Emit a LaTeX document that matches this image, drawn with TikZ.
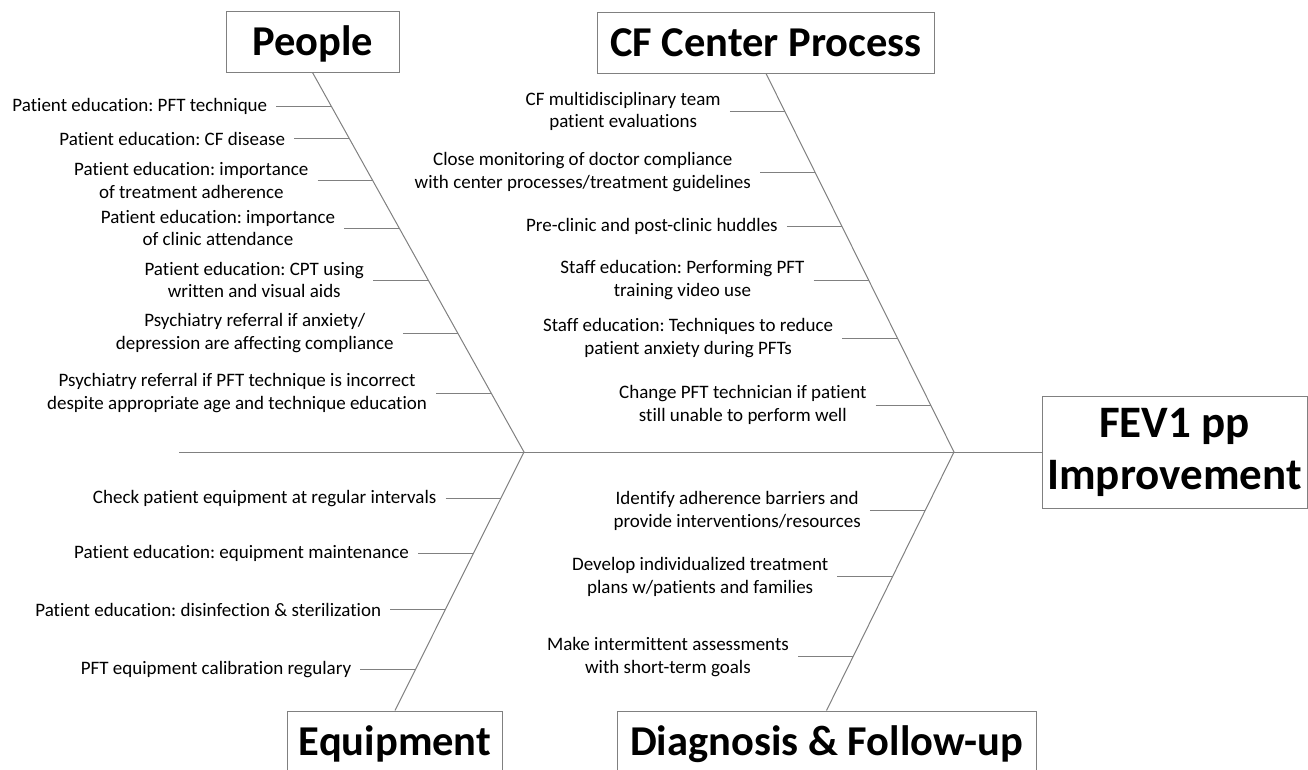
\documentclass[tikz,border=0pt]{standalone}
\usepackage{fontspec}
\setmainfont[Ligatures=NoCommon]{Carlito}
\usetikzlibrary{positioning,calc}
\frenchspacing

\definecolor{bonegray}{RGB}{128,128,128}
\newcommand{\causefont}{\fontsize{19}{22.7}\selectfont}
\newcommand{\headfont}{\fontsize{42.5}{50}\selectfont\bfseries}
\newcommand{\goalfont}{\fontsize{45}{52}\selectfont\bfseries}

\tikzset{
  bone/.style={draw=bonegray, line width=1pt},
  head/.style={draw=bonegray, line width=1pt, font=\headfont, inner sep=0pt,
    minimum height=61pt, text height=30pt, text depth=3pt},
  goal/.style={draw=bonegray, line width=1pt, font=\goalfont, align=center,
    inner sep=0pt, minimum height=112pt, minimum width=265pt},
  cause/.style={font=\causefont, align=center, inner xsep=9pt, inner ysep=0pt},
}

\begin{document}
\begin{tikzpicture}[x=1pt, y=-1pt]
    \useasboundingbox (0,0) rectangle (1308,769);
    \clip (0,0) rectangle (1308,769);

    % head and category boxes
    \node[head, minimum width=173pt] (ppl) at (312.5,41.5) {People};
    \node[head, minimum width=337pt] (cfp) at (766,42.5) {CF Center Process};
    \node[head, minimum width=215pt] (eqp) at (395,741.5) {Equipment};
    \node[head, minimum width=419pt] (dfu) at (826.5,741.5) {Diagnosis \& Follow-up};
    \node[goal] (fev) at (1174.5,452) {FEV1 pp\\Improvement};

    % spine and bones
    \coordinate (tail) at (179,452);
    \coordinate (v1) at (524,452);
    \coordinate (v2) at (954,452);
    \draw[bone] (tail) -- (fev);
    \draw[bone] (ppl.south) -- (v1) -- (eqp.north);
    \draw[bone] (cfp.south) -- (v2) -- (dfu.north);

    % people
    \coordinate (p1) at ($(ppl.south)!0.0895!(v1)$);
    \coordinate (p2) at ($(ppl.south)!0.174!(v1)$);
    \coordinate (p3) at ($(ppl.south)!0.284!(v1)$);
    \coordinate (p4) at ($(ppl.south)!0.41!(v1)$);
    \coordinate (p5) at ($(ppl.south)!0.547!(v1)$);
    \coordinate (p6) at ($(ppl.south)!0.687!(v1)$);
    \coordinate (p7) at ($(ppl.south)!0.845!(v1)$);
    \node[cause, left=55pt of p1] (pl1) {Patient education: PFT technique};
    \node[cause, left=55pt of p2] (pl2) {Patient education: CF disease};
    \node[cause, left=55pt of p3] (pl3) {Patient education: importance\\of treatment adherence};
    \node[cause, left=55pt of p4] (pl4) {Patient education: importance\\of clinic attendance};
    \node[cause, left=55pt of p5] (pl5) {Patient education: CPT using\\written and visual aids};
    \node[cause, left=55pt of p6] (pl6) {Psychiatry referral if anxiety/\\depression are affecting compliance};
    \node[cause, left=55pt of p7] (pl7) {Psychiatry referral if PFT technique is incorrect\\despite appropriate age and technique education};
    \draw[bone] (pl1) -- (p1);
    \draw[bone] (pl2) -- (p2);
    \draw[bone] (pl3) -- (p3);
    \draw[bone] (pl4) -- (p4);
    \draw[bone] (pl5) -- (p5);
    \draw[bone] (pl6) -- (p6);
    \draw[bone] (pl7) -- (p7);

    % cf center process
    \coordinate (c1) at ($(cfp.south)!0.10!(v2)$);
    \coordinate (c2) at ($(cfp.south)!0.261!(v2)$);
    \coordinate (c3) at ($(cfp.south)!0.404!(v2)$);
    \coordinate (c4) at ($(cfp.south)!0.546!(v2)$);
    \coordinate (c5) at ($(cfp.south)!0.699!(v2)$);
    \coordinate (c6) at ($(cfp.south)!0.876!(v2)$);
    \node[cause, left=55pt of c1] (cl1) {CF multidisciplinary team\\patient evaluations};
    \node[cause, left=55pt of c2] (cl2) {Close monitoring of doctor compliance\\with center processes/treatment guidelines};
    \node[cause, left=55pt of c3] (cl3) {Pre-clinic and post-clinic huddles};
    \node[cause, left=55pt of c4] (cl4) {Staff education: Performing PFT\\training video use};
    \node[cause, left=55pt of c5] (cl5) {Staff education: Techniques to reduce\\patient anxiety during PFTs};
    \node[cause, left=55pt of c6] (cl6) {Change PFT technician if patient\\still unable to perform well};
    \draw[bone] (cl1) -- (c1);
    \draw[bone] (cl2) -- (c2);
    \draw[bone] (cl3) -- (c3);
    \draw[bone] (cl4) -- (c4);
    \draw[bone] (cl5) -- (c5);
    \draw[bone] (cl6) -- (c6);

    % equipment
    \coordinate (e1) at ($(v1)!0.1815!(eqp.north)$);
    \coordinate (e2) at ($(v1)!0.394!(eqp.north)$);
    \coordinate (e3) at ($(v1)!0.61!(eqp.north)$);
    \coordinate (e4) at ($(v1)!0.842!(eqp.north)$);
    \node[cause, left=55pt of e1] (el1) {Check patient equipment at regular intervals};
    \node[cause, left=55pt of e2] (el2) {Patient education: equipment maintenance};
    \node[cause, left=55pt of e3] (el3) {Patient education: disinfection \& sterilization};
    \node[cause, left=55pt of e4] (el4) {PFT equipment calibration regulary};
    \draw[bone] (el1) -- (e1);
    \draw[bone] (el2) -- (e2);
    \draw[bone] (el3) -- (e3);
    \draw[bone] (el4) -- (e4);

    % diagnosis and follow-up
    \coordinate (d1) at ($(v2)!0.228!(dfu.north)$);
    \coordinate (d2) at ($(v2)!0.483!(dfu.north)$);
    \coordinate (d3) at ($(v2)!0.792!(dfu.north)$);
    \node[cause, left=55pt of d1] (dl1) {Identify adherence barriers and\\provide interventions/resources};
    \node[cause, left=55pt of d2] (dl2) {Develop individualized treatment\\plans w/patients and families};
    \node[cause, left=55pt of d3] (dl3) {Make intermittent assessments\\with short-term goals};
    \draw[bone] (dl1) -- (d1);
    \draw[bone] (dl2) -- (d2);
    \draw[bone] (dl3) -- (d3);
\end{tikzpicture}
\end{document}
